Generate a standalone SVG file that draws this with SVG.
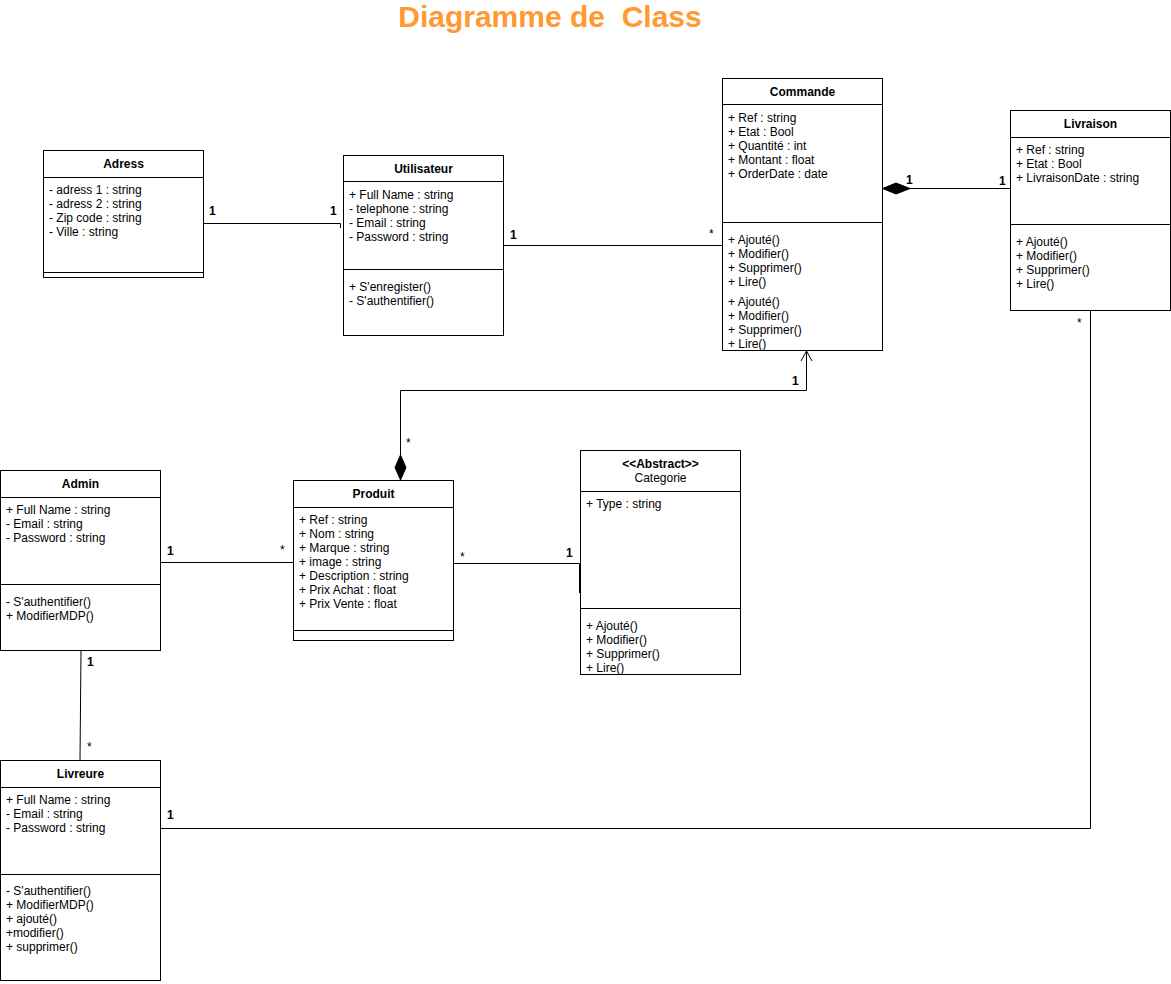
<svg xmlns="http://www.w3.org/2000/svg" width="1171" height="984" viewBox="0 0 1171 984">
<style>
text{font-family:"Liberation Sans",Arial,sans-serif;font-size:12px;fill:#000}
.t{font-weight:bold;text-anchor:middle}
.b{font-weight:bold}
.box{fill:#fff;stroke:#000;stroke-width:1}
.ln{stroke:#000;stroke-width:1;fill:none}
.title{font-size:30px;font-weight:bold;fill:#FF9933;text-anchor:middle;white-space:pre}
</style>
<rect width="1171" height="984" fill="#fff"/>
<text class="title" x="550" y="27" xml:space="preserve">Diagramme de  Class</text>

<g id="connectors">
<polyline class="ln" points="203.5,223.5 340.5,223.5 340.5,228"/>
<line class="ln" x1="503" y1="245.5" x2="722" y2="245.5"/>
<line class="ln" x1="910" y1="188.5" x2="1010" y2="188.5"/>
<polygon points="882.5,188.5 896,183 910,188.5 896,194" fill="#000" stroke="#000"/>
<polyline class="ln" points="400.5,455 400.5,390.5 806.5,390.5 806.5,351"/>
<polyline class="ln" points="801,361 806.5,351 812,361"/>
<polygon points="400.5,480 395,467.5 400.5,455 406,467.5" fill="#000" stroke="#000"/>
<line class="ln" x1="160" y1="562.5" x2="293" y2="562.5"/>
<polyline class="ln" points="453,563.5 579.5,563.5 579.5,593"/>
<line class="ln" x1="81" y1="650" x2="80" y2="760"/>
<polyline class="ln" points="160,828.5 1090.5,828.5 1090.5,310"/>
<text class="b" x="209" y="215">1</text>
<text class="b" x="330" y="215">1</text>
<text class="b" x="510" y="239">1</text>
<text x="709" y="238">*</text>
<text class="b" x="906" y="184">1</text>
<text class="b" x="999" y="185">1</text>
<text x="406" y="447">*</text>
<text class="b" x="792" y="385">1</text>
<text class="b" x="167" y="555">1</text>
<text x="280" y="554">*</text>
<text x="460" y="561">*</text>
<text class="b" x="566" y="557">1</text>
<text class="b" x="87" y="666">1</text>
<text x="87" y="751">*</text>
<text class="b" x="167" y="819">1</text>
<text x="1077" y="327">*</text>
</g>

<g id="adress">
<rect class="box" x="43.5" y="150.5" width="160" height="127"/>
<line class="ln" x1="43.5" y1="177.5" x2="203.5" y2="177.5"/>
<line class="ln" x1="43.5" y1="272.5" x2="203.5" y2="272.5"/>
<text class="t" x="123.5" y="168">Adress</text>
<text x="49" y="194">- adress 1 : string</text>
<text x="49" y="208">- adress 2 : string</text>
<text x="49" y="222">- Zip code : string</text>
<text x="49" y="236">- Ville : string</text>
</g>

<g id="utilisateur">
<rect class="box" x="343.5" y="155.5" width="160" height="180"/>
<line class="ln" x1="343.5" y1="181.5" x2="503.5" y2="181.5"/>
<line class="ln" x1="343.5" y1="269.5" x2="503.5" y2="269.5"/>
<text class="t" x="423.5" y="173">Utilisateur</text>
<text x="349" y="199">+ Full Name : string</text>
<text x="349" y="213">- telephone : string</text>
<text x="349" y="227">- Email : string</text>
<text x="349" y="241">- Password : string</text>
<text x="349" y="291">+ S'enregister()</text>
<text x="349" y="305">- S'authentifier()</text>
</g>

<g id="commande">
<rect class="box" x="722.5" y="78.5" width="160" height="272"/>
<line class="ln" x1="722.5" y1="104.5" x2="882.5" y2="104.5"/>
<line class="ln" x1="722.5" y1="222.5" x2="882.5" y2="222.5"/>
<text class="t" x="802.5" y="96">Commande</text>
<text x="728" y="122">+ Ref : string</text>
<text x="728" y="136">+ Etat : Bool</text>
<text x="728" y="150">+ Quantité : int</text>
<text x="728" y="164">+ Montant : float</text>
<text x="728" y="178">+ OrderDate : date</text>
<text x="728" y="244">+ Ajouté()</text>
<text x="728" y="258">+ Modifier()</text>
<text x="728" y="272">+ Supprimer()</text>
<text x="728" y="286">+ Lire()</text>
<text x="728" y="306">+ Ajouté()</text>
<text x="728" y="320">+ Modifier()</text>
<text x="728" y="334">+ Supprimer()</text>
<text x="728" y="348">+ Lire()</text>
</g>

<g id="livraison">
<rect class="box" x="1010.5" y="110.5" width="160" height="200"/>
<line class="ln" x1="1010.5" y1="137.5" x2="1170.5" y2="137.5"/>
<line class="ln" x1="1010.5" y1="224.5" x2="1170.5" y2="224.5"/>
<text class="t" x="1090.5" y="128">Livraison</text>
<text x="1016" y="154">+ Ref : string</text>
<text x="1016" y="168">+ Etat : Bool</text>
<text x="1016" y="182">+ LivraisonDate : string</text>
<text x="1016" y="246">+ Ajouté()</text>
<text x="1016" y="260">+ Modifier()</text>
<text x="1016" y="274">+ Supprimer()</text>
<text x="1016" y="288">+ Lire()</text>
</g>

<g id="admin">
<rect class="box" x="0.5" y="470.5" width="160" height="180"/>
<line class="ln" x1="0.5" y1="497.5" x2="160.5" y2="497.5"/>
<line class="ln" x1="0.5" y1="584.5" x2="160.5" y2="584.5"/>
<text class="t" x="80.5" y="488">Admin</text>
<text x="6" y="514">+ Full Name : string</text>
<text x="6" y="528">- Email : string</text>
<text x="6" y="542">- Password : string</text>
<text x="6" y="606">- S'authentifier()</text>
<text x="6" y="620">+ ModifierMDP()</text>
</g>

<g id="produit">
<rect class="box" x="293.5" y="480.5" width="160" height="160"/>
<line class="ln" x1="293.5" y1="507.5" x2="453.5" y2="507.5"/>
<line class="ln" x1="293.5" y1="630.5" x2="453.5" y2="630.5"/>
<text class="t" x="373.5" y="498">Produit</text>
<text x="299" y="524">+ Ref : string</text>
<text x="299" y="538">+ Nom : string</text>
<text x="299" y="552">+ Marque : string</text>
<text x="299" y="566">+ image : string</text>
<text x="299" y="580">+ Description : string</text>
<text x="299" y="594">+ Prix Achat : float</text>
<text x="299" y="608">+ Prix Vente : float</text>
</g>

<g id="categorie">
<rect class="box" x="580.5" y="450.5" width="160" height="224"/>
<line class="ln" x1="580.5" y1="491.5" x2="740.5" y2="491.5"/>
<line class="ln" x1="580.5" y1="608.5" x2="740.5" y2="608.5"/>
<text class="t" x="660.5" y="468">&lt;&lt;Abstract&gt;&gt;</text>
<text x="660.5" y="482" text-anchor="middle">Categorie</text>
<text x="586" y="508">+ Type : string</text>
<text x="586" y="630">+ Ajouté()</text>
<text x="586" y="644">+ Modifier()</text>
<text x="586" y="658">+ Supprimer()</text>
<text x="586" y="672">+ Lire()</text>
</g>

<g id="livreure">
<rect class="box" x="0.5" y="760.5" width="160" height="220"/>
<line class="ln" x1="0.5" y1="787.5" x2="160.5" y2="787.5"/>
<line class="ln" x1="0.5" y1="874.5" x2="160.5" y2="874.5"/>
<text class="t" x="80.5" y="778">Livreure</text>
<text x="6" y="804">+ Full Name : string</text>
<text x="6" y="818">- Email : string</text>
<text x="6" y="832">- Password : string</text>
<text x="6" y="895">- S'authentifier()</text>
<text x="6" y="909">+ ModifierMDP()</text>
<text x="6" y="923">+ ajouté()</text>
<text x="6" y="937">+modifier()</text>
<text x="6" y="951">+ supprimer()</text>
</g>
</svg>
